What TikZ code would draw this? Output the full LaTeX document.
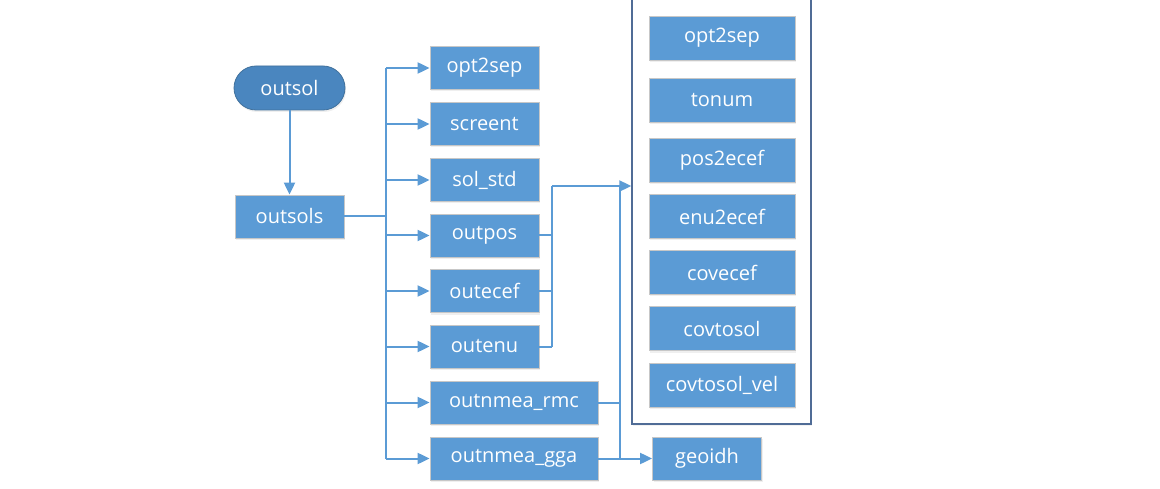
\documentclass[tikz,border=0pt]{standalone}
\usepackage{fontspec}
\setmainfont{Open Sans}
\usetikzlibrary{arrows.meta,shadows}

\definecolor{boxblue}{RGB}{91,155,213}
\definecolor{termblue}{RGB}{74,134,191}
\definecolor{termline}{RGB}{65,113,156}
\definecolor{grpline}{RGB}{80,108,150}

\tikzset{
  fn/.style={draw=black!22, line width=0.8pt, fill=boxblue, text=white,
    minimum width=109pt, minimum height=43pt, inner sep=0pt,
    font=\fontsize{20}{24}\selectfont,
    drop shadow={opacity=0.12, shadow xshift=1pt, shadow yshift=-2pt}},
  wide/.style={minimum width=168pt},
  inner/.style={minimum width=146pt, minimum height=44pt},
  term/.style={fn, draw=termline, fill=termblue, minimum width=111pt,
    minimum height=44pt, rounded corners=22pt},
  grp/.style={draw=grpline, line width=1.4pt, fill=white,
    minimum width=179pt, minimum height=440pt,
    drop shadow={opacity=0.1, shadow xshift=1pt, shadow yshift=-2pt}},
  link/.style={draw=boxblue, line width=2pt},
  tip/.style={-{Triangle[length=12pt,width=11pt]}}
}

\begin{document}
\begin{tikzpicture}[x=1pt,y=-1pt]
  \clip (0,0) rectangle (1160,489);
  \fill[white] (0,0) rectangle (1160,489);

  % start
  \node[term] (outsol) at (289.5,88) {outsol};
  \node[fn] (outsols) at (289.5,216.5) {outsols};

  % first level
  \node[fn] (opt2sep) at (484.5,68) {opt2sep};
  \node[fn] (screent) at (484.5,124) {screent};
  \node[fn] (solstd) at (484.5,180) {sol\_std};
  \node[fn] (outpos) at (484.5,235.5) {outpos};
  \node[fn] (outecef) at (484.5,291) {outecef};
  \node[fn] (outenu) at (484.5,346.5) {outenu};
  \node[fn,wide] (rmc) at (514,402.5) {outnmea\_rmc};
  \node[fn,wide] (gga) at (514,458.5) {outnmea\_gga};

  % group of helpers
  \node[grp] (grp) at (721.5,204) {};
  \node[fn,inner] (gopt2sep) at (722,38) {opt2sep};
  \node[fn,inner] (tonum) at (722,100) {tonum};
  \node[fn,inner] (pos2ecef) at (722,160.5) {pos2ecef};
  \node[fn,inner] (enu2ecef) at (722,216.5) {enu2ecef};
  \node[fn,inner] (covecef) at (722,272.5) {covecef};
  \node[fn,inner] (covtosol) at (722,328.5) {covtosol};
  \node[fn,inner] (covtosolvel) at (722,385) {covtosol\_vel};

  \node[fn] (geoidh) at (707,458.5) {geoidh};

  % connectors
  \draw[link,tip] (outsol) -- (outsols);
  \coordinate (trunk) at (386,216.5);
  \draw[link] (outsols.east) -- (trunk);
  \draw[link] (trunk |- opt2sep) -- (trunk |- gga);
  \foreach \n in {opt2sep,screent,solstd,outpos,outecef,outenu,rmc,gga}
    \draw[link,tip] (trunk |- \n) -- (\n.west);

  \coordinate (bus1) at (552,186);
  \coordinate (bus2) at (620,186);
  \foreach \n in {outpos,outecef,outenu}
    \draw[link] (\n.east) -- (bus1 |- \n);
  \draw[link] (bus1 |- outenu) -- (bus1);
  \draw[link,tip] (bus1) -- (grp.west |- bus1);
  \draw[link] (rmc.east) -- (bus2 |- rmc);
  \draw[link] (bus2) -- (bus2 |- gga);
  \draw[link,tip] (gga.east) -- (geoidh.west);
\end{tikzpicture}
\end{document}
